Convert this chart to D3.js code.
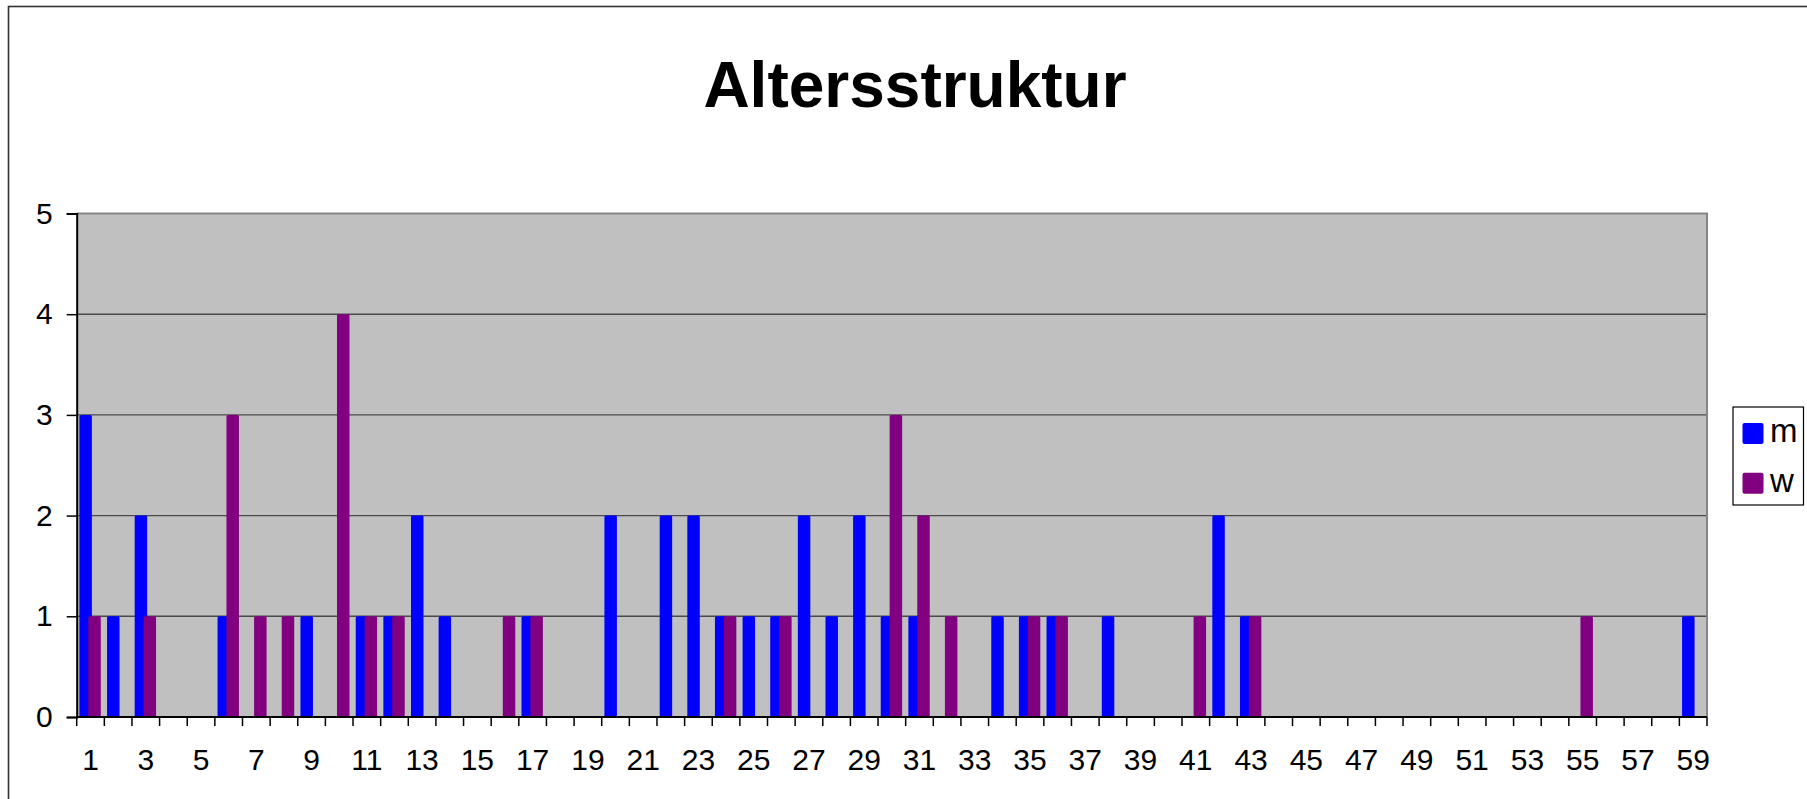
<!DOCTYPE html>
<html>
<head>
<meta charset="utf-8">
<script src="https://cdn.jsdelivr.net/npm/d3@7"></script>
<style>
  html, body { margin: 0; padding: 0; background: #fff; }
  svg { display: block; }
  text { font-family: "Liberation Sans", Arial, sans-serif; fill: #000; }
</style>
</head>
<body>
<svg id="chart" width="1807" height="799"></svg>
<script>
// ---- data ----
const title = "Altersstruktur";
const categories = d3.range(1, 60).map(String); // 1..59
const seriesNames = ["m", "w"];
const seriesColors = ["#0000FF", "#800080"];
const mValues = [3,1,2,0,0,1,0,0,1,0, 1,1,2,1,0,0,1,0,0,2, 0,2,2,1,1,1,2,1,2,1, 1,0,0,1,1,1,0,1,0,0, 0,2,1,0,0,0,0,0,0,0, 0,0,0,0,0,0,0,0,1];
const wValues = [1,0,1,0,0,3,1,1,0,4, 1,1,0,0,0,1,1,0,0,0, 0,0,0,1,0,1,0,0,0,3, 2,1,0,0,1,1,0,0,0,0, 1,0,1,0,0,0,0,0,0,0, 0,0,0,0,1,0,0,0,0];
const yTicks = [0,1,2,3,4,5];
const xTickLabels = categories.filter((c, i) => i % 2 === 0);

// ---- layout ----
const svg = d3.select("#chart");
const plot = { left: 76.7, right: 1707, top: 213.5, bottom: 717 };

const x = d3.scaleBand().domain(categories).range([plot.left, plot.right]).padding(0);
const y = d3.scaleLinear().domain([0, 5]).range([plot.bottom, plot.top]);
const bw = x.bandwidth();

// outer chart border (extends beyond canvas right/bottom)
svg.append("rect")
  .attr("x", 8.5).attr("y", 6.5).attr("width", 1830).attr("height", 830)
  .attr("fill", "none").attr("stroke", "#333").attr("stroke-width", 1.6);

// title
svg.append("text")
  .attr("x", 915).attr("y", 107)
  .attr("text-anchor", "middle")
  .attr("font-size", 64).attr("font-weight", "bold")
  .text(title);

// plot background
svg.append("rect")
  .attr("x", plot.left).attr("y", plot.top)
  .attr("width", plot.right - plot.left).attr("height", plot.bottom - plot.top)
  .attr("fill", "#C0C0C0");

// gridlines
svg.append("g").selectAll("line").data(yTicks.filter(d => d > 0 && d < 5)).join("line")
  .attr("x1", plot.left).attr("x2", plot.right)
  .attr("y1", d => y(d)).attr("y2", d => y(d))
  .attr("stroke", "#4a4a4a").attr("stroke-width", 1.4);

// plot border top/right
svg.append("path")
  .attr("d", `M${plot.left},${y(5)}H${plot.right}V${plot.bottom}`)
  .attr("fill", "none").attr("stroke", "#858585").attr("stroke-width", 2);

// bars
const series = [mValues, wValues];
const offsets = [0.098, 0.42];
const widthFrac = 0.452;
series.forEach((vals, si) => {
  svg.append("g").selectAll("rect")
    .data(categories.map((c, i) => ({ c, v: vals[i] })).filter(d => d.v > 0))
    .join("rect")
    .attr("x", d => x(d.c) + offsets[si] * bw)
    .attr("width", widthFrac * bw)
    .attr("y", d => y(d.v))
    .attr("height", d => y(0) - y(d.v))
    .attr("rx", 1.5)
    .attr("fill", seriesColors[si]);
});

// y axis
const yAxis = d3.axisLeft(y).tickValues(yTicks).tickSize(10).tickPadding(14).tickFormat(d3.format("d"));
const gy = svg.append("g").attr("transform", `translate(${plot.left},0)`).call(yAxis);
gy.select(".domain").attr("stroke", "#000").attr("stroke-width", 2);
gy.selectAll(".tick line").attr("stroke", "#000").attr("stroke-width", 1.5);
gy.selectAll(".tick text").attr("font-size", 30).attr("font-family", '"Liberation Sans", Arial, sans-serif').attr("fill", "#000");

// x axis: ticks at band boundaries, labels on odd categories
const gx = svg.append("g");
gx.append("line")
  .attr("x1", plot.left).attr("x2", plot.right)
  .attr("y1", plot.bottom).attr("y2", plot.bottom)
  .attr("stroke", "#000").attr("stroke-width", 2);
const boundaries = categories.map(c => x(c)).concat([plot.right]);
gx.selectAll("line.tk").data(boundaries).join("line")
  .attr("class", "tk")
  .attr("x1", d => d).attr("x2", d => d)
  .attr("y1", plot.bottom).attr("y2", plot.bottom + 9)
  .attr("stroke", "#000").attr("stroke-width", 1.5);
gx.selectAll("text").data(xTickLabels).join("text")
  .attr("x", d => x(d) + bw / 2)
  .attr("y", 770)
  .attr("text-anchor", "middle")
  .attr("font-size", 30)
  .text(d => d);

// legend
const lg = svg.append("g");
lg.append("rect")
  .attr("x", 1733).attr("y", 407).attr("width", 70.5).attr("height", 98)
  .attr("fill", "#fff").attr("stroke", "#000").attr("stroke-width", 1.2);
seriesNames.forEach((name, i) => {
  const yy = 423 + i * 49.7;
  lg.append("rect")
    .attr("x", 1742.5).attr("y", yy).attr("width", 21).attr("height", 21)
    .attr("rx", 2).attr("fill", seriesColors[i]);
  lg.append("text")
    .attr("x", 1770).attr("y", yy + 19)
    .attr("font-size", 33)
    .text(name);
});
</script>
</body>
</html>
